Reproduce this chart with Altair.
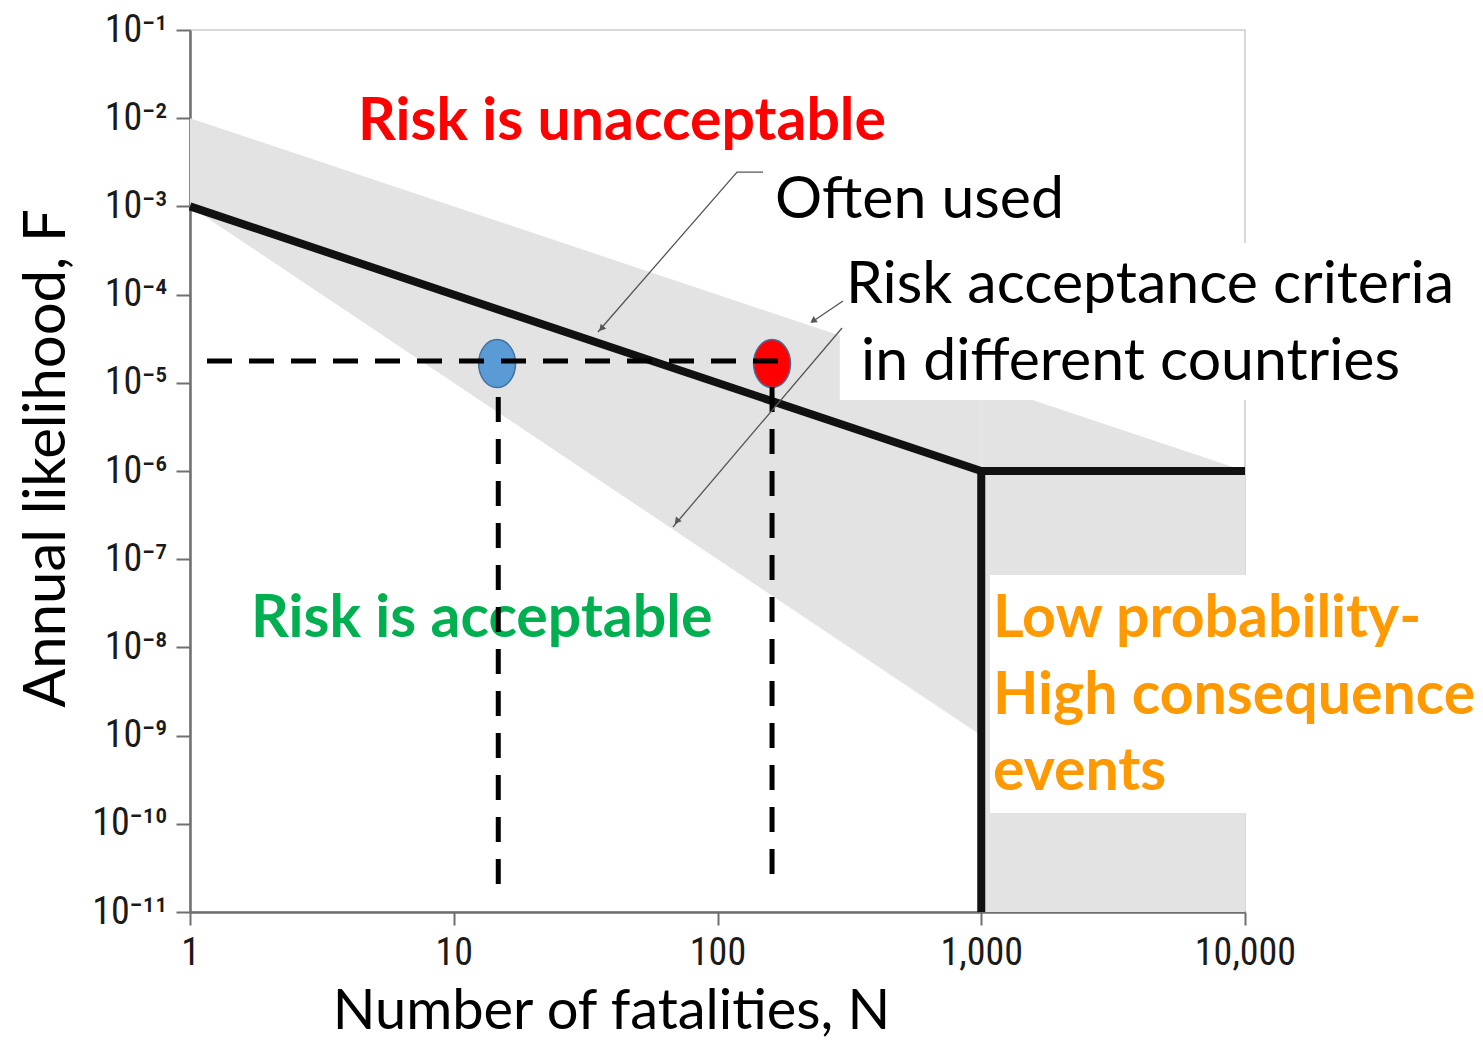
import altair as alt
import pandas as pd

# ---------------- axes ----------------
X_TICKS = [1, 10, 100, 1000, 10000]
Y_TICKS = [1e-11, 1e-10, 1e-9, 1e-8, 1e-7, 1e-6, 1e-5, 1e-4, 1e-3, 1e-2, 1e-1]
Y_TICK_LABELS = ["10⁻¹¹", "10⁻¹⁰", "10⁻⁹", "10⁻⁸", "10⁻⁷", "10⁻⁶",
                 "10⁻⁵", "10⁻⁴", "10⁻³", "10⁻²", "10⁻¹"]

# ---------------- grey band (criteria in different countries) ----------------
BAND_PART = ["band", "band", "block", "block"]
BAND_N = [1, 1000, 1000, 10000]
BAND_UPPER = [1e-2, 1e-5, 1e-5, 1e-6]
BAND_LOWER = [1e-3, 1e-9, 1e-11, 1e-11]

# ---------------- white label boxes ----------------
BOX_N1 = [291, 1079]
BOX_N2 = [10500, 10500]
BOX_F1 = [3.85e-4, 6.62e-8]
BOX_F2 = [6.38e-6, 1.33e-10]

# ---------------- "often used" criterion ----------------
MAIN_SEG = ["slope", "slope", "slope", "cut", "cut"]
MAIN_N = [1, 1000, 10000, 1000, 1000]
MAIN_F = [1e-3, 1e-6, 1e-6, 1e-6, 1e-11]

# ---------------- two example events ----------------
EVENT_N = [14.6, 161]
EVENT_F = [1.65e-5, 1.65e-5]
EVENT_FILL = ["#5B9BD5", "#FF0000"]

# ---------------- dashed guide lines ----------------
HGUIDE_N1 = [1.16]
HGUIDE_N2 = [185]
HGUIDE_F = [1.77e-5]
VGUIDE_N = [14.75, 161]
VGUIDE_F1 = [6.9e-6, 8.96e-6]
VGUIDE_F2 = [1.48e-11, 1.92e-11]

# ---------------- annotation arrows ----------------
ARROW_ID = ["a", "a", "a", "b", "b", "c", "c"]
ARROW_N = [148.8, 118.6, 35.2, 299, 228, 296.6, 67.8]
ARROW_F = [2.45e-3, 2.45e-3, 3.77e-5, 8.46e-5, 4.89e-5, 4.18e-5, 2.32e-7]
HEAD_N = [36.5, 232, 70.5]
HEAD_F = [4.2e-5, 5.1e-5, 2.75e-7]
HEAD_ANGLE = [221, 236, 220]

# ---------------- text labels ----------------
RED_TEXT = ["Risk is unacceptable"]
RED_N = [4.335]
RED_F = [5.66e-3]
BLACK_TEXT = ["Often used", "Risk acceptance criteria", "in different countries"]
BLACK_N = [165.2, 307, 350]
BLACK_F = [7.39e-4, 8.03e-5, 1.08e-5]
GREEN_TEXT = ["Risk is acceptable"]
GREEN_N = [1.703]
GREEN_F = [1.31e-8]
ORANGE_TEXT = ["Low probability-", "High consequence", "events"]
ORANGE_N = [1108, 1108, 1108]
ORANGE_F = [1.31e-8, 1.76e-9, 2.42e-10]

FONT = "Lato"
TICK_FONT = "Liberation Sans Narrow, Roboto Condensed, Liberation Sans"

xs = alt.Scale(type="log", domain=[1, 10000], nice=False)
ys = alt.Scale(type="log", domain=[1e-11, 1e-1], nice=False)

y_label_expr = " : ".join(
    f"datum.value < {v * 1.5:g} ? '{lab}'" for v, lab in zip(Y_TICKS, Y_TICK_LABELS)
) + " : ''"

xaxis = alt.Axis(values=X_TICKS, format=",", title="Number of fatalities, N",
                 grid=False, tickSize=13, labelPadding=9, labelFlush=False,
                 titleX=421, titleY=116, titleAlign="center", titleBaseline="alphabetic",
                 titleFontSize=56)
yaxis = alt.Axis(values=Y_TICKS, labelExpr=y_label_expr, title="Annual likelihood, F",
                 grid=False, tickSize=14, labelPadding=9, labelFlush=False,
                 titleX=-126, titleY=428, titleAngle=270, titleAlign="center",
                 titleBaseline="alphabetic", titleFontSize=58)


def X(f):
    return alt.X(f"{f}:Q", scale=xs, axis=xaxis)


def Y(f):
    return alt.Y(f"{f}:Q", scale=ys, axis=yaxis)


band_df = pd.DataFrame({"part": BAND_PART, "N": BAND_N, "up": BAND_UPPER, "low": BAND_LOWER})
band = alt.Chart(band_df).mark_area(color="#E3E3E3", opacity=1).encode(
    x=X("N"), y=Y("up"), y2="low", detail="part:N")

box_df = pd.DataFrame({"n1": BOX_N1, "n2": BOX_N2, "f1": BOX_F1, "f2": BOX_F2})
boxes = alt.Chart(box_df).mark_rect(color="white", opacity=1).encode(
    x=X("n1"), x2="n2", y=Y("f1"), y2="f2")


def text_layer(texts, ns, fs, color, weight):
    df = pd.DataFrame({"t": texts, "N": ns, "F": fs})
    return alt.Chart(df).mark_text(
        align="left", baseline="alphabetic", font=FONT, fontSize=59,
        fontWeight=weight, color=color).encode(x=X("N"), y=Y("F"), text="t:N")


green = text_layer(GREEN_TEXT, GREEN_N, GREEN_F, "#00B050", "bold")
red = text_layer(RED_TEXT, RED_N, RED_F, "#FF0000", "bold")
black = text_layer(BLACK_TEXT, BLACK_N, BLACK_F, "#000000", "normal")
orange = text_layer(ORANGE_TEXT, ORANGE_N, ORANGE_F, "#FF9900", "bold")

main_df = pd.DataFrame({"seg": MAIN_SEG, "N": MAIN_N, "F": MAIN_F, "i": list(range(len(MAIN_N)))})
main = alt.Chart(main_df).mark_line(color="#111111", strokeWidth=8, strokeJoin="miter").encode(
    x=X("N"), y=Y("F"), detail="seg:N", order="i:Q")

ELLIPSE = "M -0.77 0 A 0.77 1 0 1 0 0.77 0 A 0.77 1 0 1 0 -0.77 0 Z"
ev_df = pd.DataFrame({"N": EVENT_N, "F": EVENT_F, "c": EVENT_FILL})
events = alt.Chart(ev_df).mark_point(shape=ELLIPSE, size=2304, filled=True, opacity=1,
                                     stroke="#41719C", strokeWidth=1.5).encode(
    x=X("N"), y=Y("F"), fill=alt.Fill("c:N", scale=None))

hg_df = pd.DataFrame({"n1": HGUIDE_N1, "n2": HGUIDE_N2, "F": HGUIDE_F})
hguide = alt.Chart(hg_df).mark_rule(color="black", strokeWidth=5, strokeDash=[25, 17]).encode(
    x=X("n1"), x2="n2", y=Y("F"))
vg_df = pd.DataFrame({"N": VGUIDE_N, "f1": VGUIDE_F1, "f2": VGUIDE_F2})
vguide = alt.Chart(vg_df).mark_rule(color="black", strokeWidth=5, strokeDash=[25, 17]).encode(
    x=X("N"), y=Y("f1"), y2="f2")

ar_df = pd.DataFrame({"id": ARROW_ID, "N": ARROW_N, "F": ARROW_F, "i": list(range(len(ARROW_N)))})
arrows = alt.Chart(ar_df).mark_line(color="#555555", strokeWidth=1.3).encode(
    x=X("N"), y=Y("F"), detail="id:N", order="i:Q")
hd_df = pd.DataFrame({"N": HEAD_N, "F": HEAD_F, "a": HEAD_ANGLE})
heads = alt.Chart(hd_df).mark_point(shape="triangle", filled=True, size=55, color="#555555",
                                    opacity=1).encode(
    x=X("N"), y=Y("F"), angle=alt.Angle("a:Q", scale=None))

chart = alt.layer(
    band, boxes, green, main, events, hguide, vguide, arrows, heads, red, black, orange
).properties(
    width=1055, height=882,
    padding={"left": 182, "top": 22, "right": 230, "bottom": 128},
    autosize=alt.AutoSizeParams(type="none"),
).configure_view(
    stroke="#cccccc", strokeWidth=1.5
).configure_axis(
    domainColor="#6e6e6e", domainWidth=2.5, tickColor="#6e6e6e", tickWidth=2,
    labelFont=TICK_FONT, labelFontSize=38, labelColor="#1a1a1a",
    titleFont=FONT, titleFontWeight="normal", titleColor="#000000",
)

chart.save("out.html", embed_options={"renderer": "svg", "actions": False})
